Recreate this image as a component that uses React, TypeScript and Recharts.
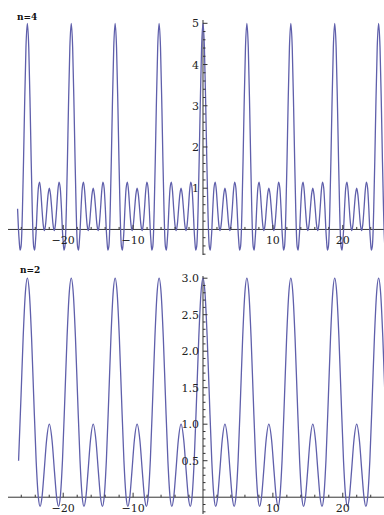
import { LineChart, Line, XAxis, YAxis, ReferenceLine } from "recharts";

// peak positions (same in both panels)
const peakCenters = [-25.13, -18.85, -12.57, -6.28, 0, 6.28, 12.57, 18.85, 25.13];

// half a period of each curve: distance from a peak -> value
const n4Offsets = [0, 0.2, 0.4, 0.55, 0.7, 0.78, 0.9, 1.05, 1.17, 1.27, 1.4, 1.57, 1.75, 1.92, 2.09, 2.27, 2.44, 2.62, 2.79, 2.97, 3.1416];
const n4Values = [5, 4.42, 2.95, 1.65, 0.5, 0, -0.41, -0.5, -0.27, 0, 0.5, 1, 1.15, 0.93, 0.5, 0.11, -0.03, 0.14, 0.5, 0.85, 1];

const n2Offsets = [0, 0.3, 0.6, 0.9, 1.257, 1.571, 1.823, 2.094, 2.4, 2.75, 3.1416];
const n2Values = [3, 2.78, 2.19, 1.4, 0.5, 0, -0.125, 0, 0.35, 0.78, 1];

// tick labels
const xTickLabels = [-20, -10, 10, 20];
const n4YTickLabels = [1, 2, 3, 4, 5];
const n2YTickLabels = [0.5, 1, 1.5, 2, 2.5, 3];

const X_START = -26.55;
const X_END = 26.4;
const X_DOMAIN: [number, number] = [-27.9, 25.9];

const W = 384;
const PLOT_LEFT = 8;
const LINE_COLOR = "#5f5fab";
const AXIS_COLOR = "#333";
const FONT = "'DejaVu Serif', 'Liberation Serif', serif";

function buildSeries(offsets: number[], values: number[]) {
  const pts: { x: number; y: number }[] = [];
  peakCenters.forEach((c) =>
    offsets.forEach((o, i) => {
      pts.push({ x: c + o, y: values[i] });
      if (o > 0 && o < 3.14) pts.push({ x: c - o, y: values[i] });
    })
  );
  return pts.filter((p) => p.x >= X_START && p.x <= X_END).sort((a, b) => a.x - b.x);
}

function range(from: number, to: number, step: number) {
  const out: number[] = [];
  for (let v = from; v <= to + 1e-9; v += step) {
    const r = Math.round(v * 100) / 100;
    if (Math.abs(r) > 1e-9) out.push(r);
  }
  return out;
}

const n4Data = buildSeries(n4Offsets, n4Values);
const n2Data = buildSeries(n2Offsets, n2Values);

interface PanelProps {
  data: { x: number; y: number }[];
  top: number;
  height: number;
  marginTop: number;
  marginBottom: number;
  yDomain: [number, number];
  yMajor: number[];
  yMinorStep: number;
  yDecimals: number;
}

function Panel({ data, top, height, marginTop, marginBottom, yDomain, yMajor, yMinorStep, yDecimals }: PanelProps) {
  // axes are 1px wide/high so they still draw their ticks
  const plotW = W - PLOT_LEFT;
  const plotH = height - marginTop - marginBottom - 1;
  const x0 = PLOT_LEFT + (plotW * (0 - X_DOMAIN[0])) / (X_DOMAIN[1] - X_DOMAIN[0]);
  const y0 = marginTop + (plotH * yDomain[1]) / (yDomain[1] - yDomain[0]);

  const xTicks = range(-26, 24, 2);
  const yTicks = range(Math.ceil(yDomain[0] / yMinorStep) * yMinorStep, yDomain[1], yMinorStep);
  const isMajorY = (v: number) => yMajor.some((m) => Math.abs(m - v) < 1e-6);

  const XTick = (props: any) => {
    const { x, payload } = props;
    const major = xTickLabels.includes(payload.value);
    return (
      <g>
        <line x1={x} x2={x} y1={y0} y2={y0 - (major ? 4.5 : 2.5)} stroke={AXIS_COLOR} strokeWidth={1} />
        {major && (
          <text x={x} y={y0 + 15} textAnchor="middle" fontFamily={FONT} fontSize={11} fill="#222">
            {payload.value < 0 ? `\u2212${Math.abs(payload.value)}` : payload.value}
          </text>
        )}
      </g>
    );
  };

  const YTick = (props: any) => {
    const { y, payload } = props;
    const major = isMajorY(payload.value);
    return (
      <g>
        <line x1={x0} x2={x0 + (major ? 4.5 : 2.5)} y1={y} y2={y} stroke={AXIS_COLOR} strokeWidth={1} />
        {major && (
          <text x={x0 - 4} y={y + 4} textAnchor="end" fontFamily={FONT} fontSize={11} fill="#222">
            {payload.value.toFixed(yDecimals)}
          </text>
        )}
      </g>
    );
  };

  return (
    <div style={{ position: "absolute", left: 0, top }}>
      <LineChart width={W} height={height} data={data} margin={{ top: marginTop, right: 0, bottom: marginBottom, left: PLOT_LEFT - 1 }}>
        <XAxis
          type="number"
          dataKey="x"
          domain={X_DOMAIN}
          allowDataOverflow
          ticks={xTicks}
          interval={0}
          height={1}
          axisLine={false}
          tickLine={false}
          tick={XTick}
        />
        <YAxis
          type="number"
          domain={yDomain}
          allowDataOverflow
          ticks={yTicks}
          interval={0}
          width={1}
          axisLine={false}
          tickLine={false}
          tick={YTick}
        />
        <ReferenceLine y={0} stroke={AXIS_COLOR} strokeWidth={1} />
        <ReferenceLine x={0} stroke={AXIS_COLOR} strokeWidth={1} />
        <Line type="monotone" dataKey="y" stroke={LINE_COLOR} strokeWidth={1.3} dot={false} isAnimationActive={false} />
      </LineChart>
    </div>
  );
}

export default function App() {
  return (
    <div style={{ position: "absolute", left: 0, top: 0, width: W, height: 515, background: "#fff", overflow: "hidden" }}>
      <Panel
        data={n4Data}
        top={0}
        height={258}
        marginTop={20}
        marginBottom={2}
        yDomain={[-0.62, 5.08]}
        yMajor={n4YTickLabels}
        yMinorStep={0.2}
        yDecimals={0}
      />
      <Panel
        data={n2Data}
        top={258}
        height={257}
        marginTop={18}
        marginBottom={0}
        yDomain={[-0.23, 3.03]}
        yMajor={n2YTickLabels}
        yMinorStep={0.1}
        yDecimals={1}
      />
      <svg width={W} height={515} style={{ position: "absolute", left: 0, top: 0, pointerEvents: "none" }}>
        <text x={17} y={19.5} fontFamily={FONT} fontWeight="bold" fontSize={9} fill="#111">n=4</text>
        <text x={20} y={272.5} fontFamily={FONT} fontWeight="bold" fontSize={9} fill="#111">n=2</text>
      </svg>
    </div>
  );
}
